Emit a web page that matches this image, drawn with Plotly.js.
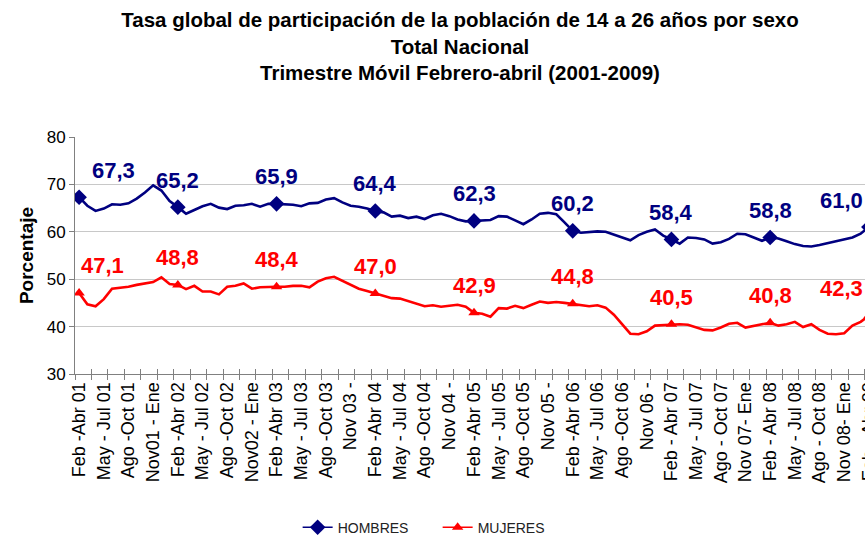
<!DOCTYPE html>
<html>
<head>
<meta charset="utf-8">
<script src="https://cdn.plot.ly/plotly-3.0.1.min.js"></script>
<style>
html,body{margin:0;padding:0;overflow:hidden;background:#fff;}
#chart{width:880px;height:550px;}
</style>
</head>
<body>
<div id="chart"></div>
<script>
// Tick labels (one every 3 rolling quarters)
const tickLabels = [
  "Feb -Abr 01","May - Jul 01","Ago -Oct 01","Nov01 - Ene",
  "Feb -Abr 02","May - Jul 02","Ago -Oct 02","Nov02 - Ene",
  "Feb -Abr 03","May - Jul 03","Ago -Oct 03","Nov 03 -",
  "Feb -Abr 04","May - Jul 04","Ago -Oct 04","Nov 04 -",
  "Feb -Abr 05","May - Jul 05","Ago -Oct 05","Nov 05 -",
  "Feb -Abr 06","May - Jul 06","Ago -Oct 06","Nov 06 -",
  "Feb - Abr 07","May - Jul 07","Ago - Oct 07","Nov 07- Ene",
  "Feb - Abr 08","May - Jul 08","Ago - Oct 08","Nov 08- Ene",
  "Feb - Abr 09"
];

// Monthly rolling-quarter series, Feb-Abr 2001 .. Feb-Abr 2009 (97 values)
const hombres = [
  67.3,65.5,64.4,64.9,65.8,65.7,66.0,67.0,68.3,69.8,68.7,66.5,
  65.2,63.8,64.6,65.4,65.9,65.1,64.8,65.5,65.6,65.9,65.3,65.9,
  65.9,65.8,65.7,65.4,66.0,66.1,66.8,67.1,66.2,65.5,65.3,64.9,
  64.4,64.1,63.2,63.4,62.9,63.2,62.7,63.5,63.8,63.3,62.6,62.2,
  62.3,62.5,62.5,63.3,63.2,62.4,61.6,62.6,63.8,64.0,63.7,62.0,
  60.2,59.8,59.9,60.1,60.0,59.4,58.7,58.2,59.3,60.0,60.5,59.2,
  58.4,57.5,58.8,58.7,58.4,57.5,57.8,58.5,59.6,59.5,58.8,58.1,
  58.8,58.6,58.0,57.4,57.0,56.9,57.2,57.6,58.1,58.4,58.8,59.6,
  61.0
];
const mujeres = [
  47.1,44.7,44.3,45.8,48.0,48.2,48.4,48.8,49.1,49.4,50.4,49.0,
  48.8,47.9,48.6,47.4,47.4,46.8,48.4,48.6,49.1,48.0,48.3,48.4,
  48.4,48.4,48.6,48.6,48.3,49.5,50.2,50.5,49.7,48.8,48.0,47.5,
  47.0,46.4,46.0,45.9,45.4,44.9,44.3,44.5,44.2,44.4,44.6,44.2,
  42.9,42.7,42.1,43.9,43.8,44.4,43.9,44.6,45.3,45.0,45.2,45.0,
  44.8,44.5,44.3,44.5,44.0,42.5,40.4,38.5,38.4,39.0,40.2,40.3,
  40.5,40.5,40.4,39.8,39.3,39.2,39.8,40.6,40.8,39.8,40.2,40.5,
  40.8,40.2,40.5,41.0,39.9,40.5,39.3,38.5,38.4,38.6,40.2,41.0,
  42.3
];
// Labelled Feb-Abr values
const labelIdx = [0,12,24,36,48,60,72,84,96];
const hombresLbl = ["67,3","65,2","65,9","64,4","62,3","60,2","58,4","58,8","61,0"];
const mujeresLbl = ["47,1","48,8","48,4","47,0","42,9","44,8","40,5","40,8","42,3"];

const NAVY = "#000080", RED = "#FF0000";
const FONT = "'Liberation Sans', Arial, sans-serif";

const idx = hombres.map((_, i) => i);
const tickVals = tickLabels.map((_, k) => k * 3);
const sparse = arr => arr.map((v, i) => (i % 12 === 0 ? v : null));

const traces = [
  {x: idx, y: hombres, mode: "lines", line: {color: NAVY, width: 2.6},
   showlegend: false, hoverinfo: "skip", xaxis: "x2"},
  {x: idx, y: mujeres, mode: "lines", line: {color: RED, width: 2.6},
   showlegend: false, hoverinfo: "skip"},
  {x: idx, y: sparse(hombres), name: "HOMBRES", mode: "lines+markers", connectgaps: false,
   line: {color: NAVY, width: 1.5}, marker: {symbol: "diamond", size: 12, color: NAVY}},
  {x: idx, y: sparse(mujeres), name: "MUJERES", mode: "lines+markers", connectgaps: false,
   line: {color: RED, width: 1.5}, marker: {symbol: "triangle-up", size: 10, color: RED}}
];

const shiftX = i => (i === 0 ? 34 : (i === 96 ? -27 : 0));
const annotations = [];
labelIdx.forEach((i, k) => {
  annotations.push({x: i, y: hombres[i], text: hombresLbl[k], showarrow: false,
    xshift: shiftX(i), yshift: 27, font: {family: FONT, size: 22, color: NAVY, weight: "bold"}});
  annotations.push({x: i, y: mujeres[i], text: mujeresLbl[k], showarrow: false,
    xshift: i === 0 ? 23 : shiftX(i), yshift: 27, font: {family: FONT, size: 22, color: RED, weight: "bold"}});
});

const layout = {
  width: 880, height: 550,
  margin: {l: 75, r: 7, t: 137, b: 168},
  paper_bgcolor: "#fff", plot_bgcolor: "#fff",
  font: {family: FONT, color: "#000"},
  title: {
    text: "Tasa global de participación de la población de 14 a 26 años por sexo<br>Total Nacional<br>Trimestre Móvil Febrero-abril (2001-2009)",
    font: {family: FONT, size: 20.5, color: "#000", weight: "bold"},
    x: 460 / 880, xanchor: "center", y: 1 - 27 / 550, yanchor: "top", xref: "container", yref: "container"
  },
  xaxis: {
    range: [-0.5, 96.5], tickmode: "array", tickvals: tickVals, ticktext: tickLabels,
    tickangle: -90, ticks: "", tickfont: {family: FONT, size: 18, color: "#000"},
    showline: true, linecolor: "#808080", linewidth: 1, showgrid: false, zeroline: false,
    minor: {tickmode: "linear", tick0: -0.5, dtick: 2, ticks: "outside", ticklen: 5, tickcolor: "#808080", showgrid: false}
  },
  xaxis2: {
    overlaying: "x", anchor: "y", range: [-0.5, 96.5], tickmode: "linear", tick0: -0.5, dtick: 2,
    ticks: "inside", ticklen: 5, tickcolor: "#808080", showticklabels: false,
    showline: false, showgrid: false, zeroline: false
  },
  yaxis: {
    range: [30, 80], dtick: 10, tick0: 30, ticks: "outside", ticklen: 5, tickcolor: "#808080",
    tickfont: {family: FONT, size: 17, color: "#000"},
    showline: true, linecolor: "#808080", linewidth: 1,
    gridcolor: "#c8c8c8", gridwidth: 1, zeroline: false,
    title: {text: "Porcentaje", standoff: 8, font: {family: FONT, size: 19, color: "#000", weight: "bold"}}
  },
  legend: {
    orientation: "h", x: 0.279, xanchor: "left", y: -0.648, yanchor: "middle",
    font: {family: FONT, size: 14, color: "#222"}, bgcolor: "rgba(0,0,0,0)",
    entrywidth: 95, entrywidthmode: "pixels"
  },
  annotations: annotations,
  showlegend: true
};

Plotly.newPlot("chart", traces, layout, {displayModeBar: false, staticPlot: true});
</script>
</body>
</html>
